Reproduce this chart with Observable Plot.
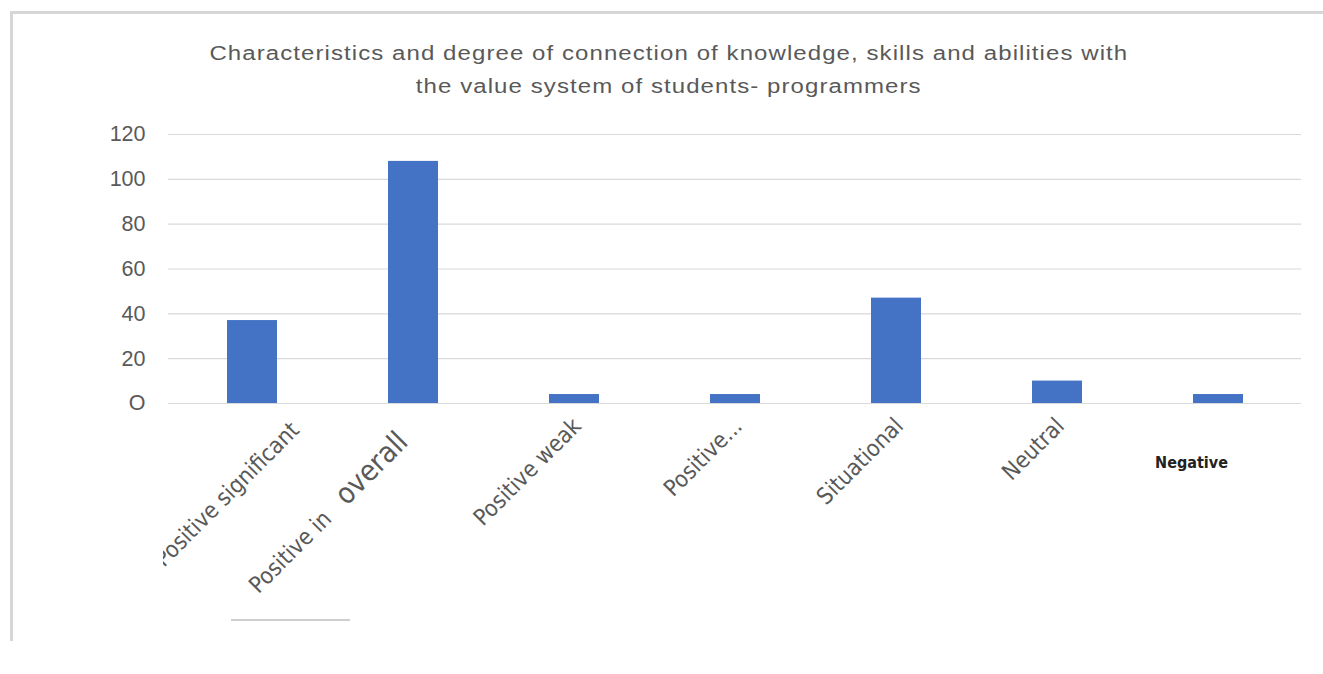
<!DOCTYPE html>
<html>
<head>
<meta charset="utf-8">
<script src="https://cdn.jsdelivr.net/npm/d3@7"></script>
<script src="https://cdn.jsdelivr.net/npm/@observablehq/plot@0.6"></script>
<style>
  html, body { margin: 0; padding: 0; background: #fff; }
  #wrap { position: relative; width: 1323px; height: 674px; overflow: hidden; }
  #frame { position: absolute; left: 10px; top: 11px; width: 1330px; height: 630px;
           border-top: 3px solid #d6d6d6; border-left: 3px solid #d6d6d6; box-sizing: border-box; }
  #title { position: absolute; left: 0; top: 37px; width: 1338px; text-align: center;
           font-family: "Liberation Sans", Arial, sans-serif; font-size: 20px; line-height: 33px;
           color: #595959; }
  #title span { display: inline-block; transform: scaleX(1.2); letter-spacing: 0.9px; }
  #chart { position: absolute; left: 0; top: 0; }
  #stub { position: absolute; left: 231px; top: 619px; width: 119px; height: 2px; background: #cfcfcf; }
</style>
</head>
<body>
<div id="wrap">
  <div id="frame"></div>
  <div id="chart"></div>
  <div id="title"><span>Characteristics and degree of connection of knowledge, skills and abilities with</span><br><span>the value system of students- programmers</span></div>
  <div id="stub"></div>
</div>
<script>
const categories = ["Positive significant", "Positive in overall", "Positive weak", "Positive...", "Situational", "Neutral", "Negative"];
const values = [37, 108, 4, 4, 47, 10, 4];
const yTicks = [0, 20, 40, 60, 80, 100, 120];
const yTickLabels = ["O", "20", "40", "60", "80", "100", "120"];

const data = categories.map((c, i) => ({category: c, value: values[i]}));
const rotatedCats = categories.slice(0, 6);
const flatCats = categories.slice(6);

const gray = "#595959";
const labelFont = "'Liberation Sans Narrow', 'DejaVu Sans Condensed', 'Liberation Sans', sans-serif";

const plot = Plot.plot({
  width: 1323,
  height: 674,
  marginTop: 134,
  marginBottom: 271,
  marginLeft: 168,
  marginRight: 22,
  style: {background: "transparent", fontFamily: "'Liberation Sans', Arial, sans-serif"},
  x: {domain: categories, paddingInner: 0.69, paddingOuter: 0.345, axis: null},
  y: {domain: [0, 120], axis: null},
  marks: [
    Plot.ruleY(yTicks, {stroke: "#d9d9d9", strokeWidth: 1.2, strokeOpacity: 1}),
    Plot.barY(data, {x: "category", y: "value", fill: "#4472c4"}),
    Plot.text(yTicks, {
      y: d => d, frameAnchor: "left", dx: -23, textAnchor: "end",
      text: (d, i) => yTickLabels[i], fontSize: 21.5, fill: gray
    }),
    Plot.text(rotatedCats, {
      x: d => d, frameAnchor: "bottom", dy: 24, dx: 8, rotate: -45, textAnchor: "end",
      text: d => d, fontSize: 23, fill: gray, fontFamily: labelFont
    }),
    Plot.text(flatCats, {
      x: d => d, frameAnchor: "bottom", dy: 64, dx: -27, text: d => d,
      fontSize: 16, fill: "#222", fontWeight: "bold",
      fontFamily: "'Liberation Sans Narrow', 'DejaVu Sans Condensed', 'Liberation Sans', sans-serif"
    })
  ]
});

document.getElementById("chart").appendChild(plot);

function shift(t, ddx, ddy) {
  t.setAttribute("transform", (t.getAttribute("transform") || "").replace(/translate\(([-\d.]+),([-\d.]+)\)/, (m, x, y) => `translate(${+x + ddx},${+y + ddy})`));
}

// post-process a couple of label details seen in the reference
const svg = d3.select(plot);
svg.selectAll("text").each(function() {
  const t = this;
  if (t.textContent === "Positive in overall") {
    t.textContent = "";
    const a = document.createElementNS("http://www.w3.org/2000/svg", "tspan");
    a.textContent = "Positive in\u00a0\u00a0\u00a0";
    const b = document.createElementNS("http://www.w3.org/2000/svg", "tspan");
    b.textContent = "overall";
    b.setAttribute("font-size", 29);
    t.appendChild(a); t.appendChild(b);
    shift(t, -12, 16);
  }
  if (t.textContent === "Positive significant") {
    const parent = t.parentNode;
    const ctm = parent.getCTM();
    const offX = ctm ? ctm.e : 0;
    const offY = ctm ? ctm.f : 0;
    let defs = plot.querySelector("defs");
    if (!defs) { defs = document.createElementNS("http://www.w3.org/2000/svg", "defs"); plot.insertBefore(defs, plot.firstChild); }
    const cp = document.createElementNS("http://www.w3.org/2000/svg", "clipPath");
    cp.setAttribute("id", "clipFirst");
    cp.setAttribute("clipPathUnits", "userSpaceOnUse");
    const r = document.createElementNS("http://www.w3.org/2000/svg", "rect");
    r.setAttribute("x", 163 - offX); r.setAttribute("y", -offY);
    r.setAttribute("width", 2000); r.setAttribute("height", 2000);
    cp.appendChild(r); defs.appendChild(cp);
    const g = document.createElementNS("http://www.w3.org/2000/svg", "g");
    g.setAttribute("clip-path", "url(#clipFirst)");
    parent.insertBefore(g, t);
    g.appendChild(t);
    shift(t, 40, 4);
  }
});
</script>
</body>
</html>
